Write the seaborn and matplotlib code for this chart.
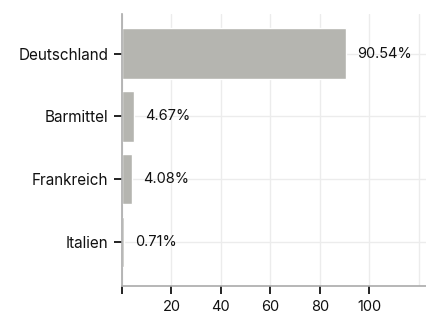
import numpy as np
import pandas as pd
import seaborn as sns
import matplotlib.pyplot as plt

# Daten
laender = ["Deutschland", "Barmittel", "Frankreich", "Italien"]
anteile = [90.54, 4.67, 4.08, 0.71]
x_ticks = [0, 20, 40, 60, 80, 100]
x_tick_labels = ["", "20", "40", "60", "80", "100"]

df = pd.DataFrame({"land": laender, "anteil": anteile})

sns.set_style("white")
plt.rcParams['font.family'] = ['Inter', 'DejaVu Sans']

fig = plt.figure(figsize=(4.26, 3.14), dpi=100)
ax = fig.add_axes([122 / 426, 28 / 314, 304 / 426, 272 / 314])

sns.barplot(data=df, x="anteil", y="land", color="#b5b5b0", saturation=1,
            width=0.8, ax=ax, zorder=2)

# Beschriftung der Balken
for i, v in enumerate(anteile):
    ax.text(v + 4.5, i, f"{v:.2f}%", va="center", ha="left", fontsize=10.5, color="#111111")

ax.set_xlim(0, 123)
ax.set_ylim(3.7, -0.63)
ax.set_xticks(x_ticks)
ax.set_xticklabels(x_tick_labels)
ax.set_xticks([120], minor=True)   # nur Gitterlinie, kein Tick
ax.set_xlabel("")
ax.set_ylabel("")

ax.grid(True, which="both", color="#ececec", linewidth=1, zorder=0)
ax.set_axisbelow(True)

for side in ["top", "right"]:
    ax.spines[side].set_visible(False)
for side in ["left", "bottom"]:
    ax.spines[side].set_color("#aaaaaa")
    ax.spines[side].set_linewidth(1.2)

ax.tick_params(axis="both", which="major", length=6, width=1.3, color="#111111",
               labelcolor="#111111", direction="out", bottom=True, left=True)
ax.tick_params(axis="y", labelsize=11, pad=4)
ax.tick_params(axis="x", labelsize=10.5, pad=4)
ax.tick_params(axis="x", which="minor", length=0)

fig.savefig("out.png", dpi=100)
